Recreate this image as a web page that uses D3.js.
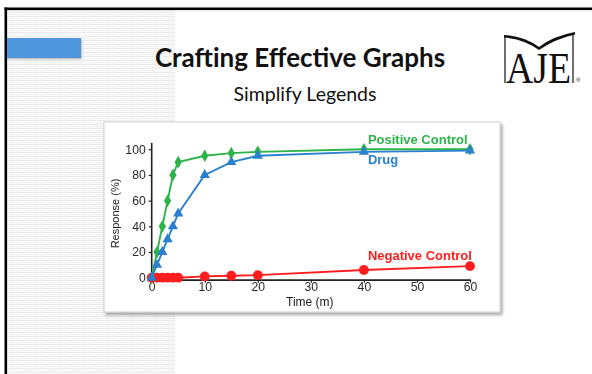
<!DOCTYPE html>
<html>
<head>
<meta charset="utf-8">
<script src="https://cdn.jsdelivr.net/npm/d3@7"></script>
<style>
  html, body { margin: 0; padding: 0; background: #fff; }
  svg { display: block; }
</style>
</head>
<body>
<svg id="slide" width="592" height="374"></svg>
<script>
// ---- data ----
const times = [0, 1, 2, 3, 4, 5, 10, 15, 20, 40, 60];
const positiveControl = [0, 20, 40, 60, 80, 90, 95, 97, 98, 100, 100];
const drug = [0, 10, 20, 30, 40, 50, 80, 90, 95, 98, 99];
const negativeControl = [0, 0, 0, 0, 0, 0, 1, 1.5, 2, 6, 9];
const xTicks = [0, 10, 20, 30, 40, 50, 60];
const yTicks = [0, 20, 40, 60, 80, 100];
const seriesNames = ["Positive Control", "Drug", "Negative Control"];

const svg = d3.select("#slide");
const defs = svg.append("defs");

// ---- slide background ----
const pat = defs.append("pattern").attr("id", "weave")
  .attr("patternUnits", "userSpaceOnUse").attr("width", 24).attr("height", 4);
pat.append("rect").attr("width", 24).attr("height", 4).attr("fill", "#f9f9f9");
pat.append("rect").attr("y", 0).attr("width", 24).attr("height", 1).attr("fill", "#ebebeb");
pat.append("rect").attr("y", 2).attr("width", 14).attr("height", 1).attr("fill", "#f1f1f1");
pat.append("rect").attr("x", 17).attr("width", 1).attr("height", 4).attr("fill", "#f2f2f2");

svg.append("rect").attr("x", 7).attr("y", 10).attr("width", 168).attr("height", 364)
  .attr("fill", "url(#weave)");

// frame edges
svg.append("rect").attr("x", 4.5).attr("y", 7.5).attr("width", 592).attr("height", 2.6).attr("fill", "#000");
svg.append("rect").attr("x", 4.5).attr("y", 7.5).attr("width", 2.6).attr("height", 370).attr("fill", "#000");

// blue tab
const shadow = defs.append("filter").attr("id", "tabShadow").attr("x", "-10%").attr("y", "-20%")
  .attr("width", "130%").attr("height", "160%");
shadow.append("feDropShadow").attr("dx", 0.5).attr("dy", 1).attr("stdDeviation", 0.8)
  .attr("flood-color", "#000").attr("flood-opacity", 0.3);
svg.append("rect").attr("x", 7).attr("y", 38).attr("width", 74).attr("height", 20)
  .attr("fill", "#4f97dd").attr("filter", "url(#tabShadow)");

// headings
svg.append("text").attr("x", 300).attr("y", 67).attr("text-anchor", "middle")
  .attr("font-family", "Lato, 'Open Sans', sans-serif").attr("font-weight", 700)
  .attr("font-size", 26).attr("fill", "#111").text("Crafting Effective Graphs");
svg.append("text").attr("x", 305).attr("y", 101).attr("text-anchor", "middle")
  .attr("font-family", "Lato, 'Open Sans', sans-serif").attr("font-weight", 400)
  .attr("font-size", 19.5).attr("fill", "#111").text("Simplify Legends");

// logo: open book over the letters
const logo = svg.append("g");
logo.append("path").attr("d", "M505,36 L505,83").attr("stroke", "#111").attr("stroke-width", 1.2).attr("fill", "none");
logo.append("path").attr("d", "M573,33 L573,83").attr("stroke", "#111").attr("stroke-width", 1.2).attr("fill", "none");
logo.append("path").attr("d", "M504,35 Q524,36 539,47 Q553,36 575,32 L575,34.5 Q555,39 539,50 Q524,39 504,37.5 Z")
  .attr("fill", "#111");
logo.append("text").attr("x", 0).attr("y", 0)
  .attr("transform", "translate(506,83) scale(0.86,1)")
  .attr("font-family", "'Liberation Serif', 'DejaVu Serif', serif")
  .attr("font-size", 44).attr("fill", "#111").text("AJE");
logo.append("text").attr("x", 576).attr("y", 82)
  .attr("font-family", "'Liberation Sans', sans-serif").attr("font-size", 6).attr("fill", "#111").text("®");

// ---- embedded chart panel ----
const panelShadow = defs.append("filter").attr("id", "panelShadow").attr("x", "-5%").attr("y", "-5%")
  .attr("width", "112%").attr("height", "115%");
panelShadow.append("feDropShadow").attr("dx", 2).attr("dy", 2.5).attr("stdDeviation", 1.5)
  .attr("flood-color", "#000").attr("flood-opacity", 0.35);
svg.append("rect").attr("x", 104).attr("y", 122).attr("width", 396).attr("height", 190)
  .attr("fill", "#fff").attr("stroke", "#cfcfcf").attr("stroke-width", 1)
  .attr("filter", "url(#panelShadow)");

const soft = defs.append("filter").attr("id", "soft");
soft.append("feGaussianBlur").attr("stdDeviation", 0.35);

const chart = svg.append("g").attr("filter", "url(#soft)");

const x = d3.scaleLinear().domain([0, 60]).range([151.7, 470]);
const y = d3.scaleLinear().domain([0, 100]).range([277.7, 149.3]);

const font = "'Liberation Sans', Arial, sans-serif";

// axes
const yAxis = chart.append("g").attr("transform", `translate(${x(0)},0)`)
  .call(d3.axisLeft(y).tickValues(yTicks).tickSize(3).tickSizeOuter(0).tickPadding(3));
yAxis.select(".domain").remove();
yAxis.append("line").attr("x1", 0).attr("x2", 0).attr("y1", y(105)).attr("y2", y(-1.5))
  .attr("stroke", "#222").attr("stroke-width", 1.6);

const xAxis = chart.append("g").attr("transform", `translate(0,${y(-1.5)})`)
  .call(d3.axisBottom(x).tickValues(xTicks).tickSize(3).tickSizeOuter(0).tickPadding(0));
xAxis.select(".domain").attr("stroke", "#222").attr("stroke-width", 1.6);

chart.selectAll(".tick line").attr("stroke", "#222").attr("stroke-width", 1.2);
chart.selectAll(".tick text").attr("font-family", font).attr("font-size", 12.2)
  .attr("fill", "#2a2a2a");

chart.append("text").attr("x", (x(0) + x(60)) / 2 - 1).attr("y", 306).attr("text-anchor", "middle")
  .attr("font-family", font).attr("font-size", 12).attr("fill", "#222").text("Time (m)");
chart.append("text").attr("transform", `translate(119,${y(50)}) rotate(-90)`)
  .attr("text-anchor", "middle").attr("font-family", font).attr("font-size", 11)
  .attr("fill", "#222").text("Response (%)");

// series
const series = [
  { name: seriesNames[0], values: positiveControl, color: "#2fb34c", symbol: d3.symbolDiamond, size: 46 },
  { name: seriesNames[2], values: negativeControl, color: "#ff1f1f", symbol: d3.symbolCircle, size: 76 },
  { name: seriesNames[1], values: drug, color: "#2c7fcf", symbol: d3.symbolTriangle, size: 46 }
];

const line = d3.line().x((d, i) => x(times[i])).y(d => y(d));

series.forEach(s => {
  const g = chart.append("g");
  g.append("path").datum(s.values).attr("d", line)
    .attr("fill", "none").attr("stroke", s.color).attr("stroke-width", 1.9);
  g.selectAll("path.pt").data(s.values).join("path").attr("class", "pt")
    .attr("transform", (d, i) => `translate(${x(times[i])},${y(d)})`)
    .attr("d", d3.symbol().type(s.symbol).size(s.size))
    .attr("fill", s.color);
});

// direct labels
const labelSize = 13;
chart.append("text").attr("x", x(40) + 4).attr("y", y(100) - 5)
  .attr("font-family", font).attr("font-size", labelSize).attr("font-weight", 700)
  .attr("fill", "#2fb34c").text(seriesNames[0]);
chart.append("text").attr("x", x(40) + 4).attr("y", y(98) + 12)
  .attr("font-family", font).attr("font-size", labelSize).attr("font-weight", 700)
  .attr("fill", "#2c7fcf").text(seriesNames[1]);
chart.append("text").attr("x", x(40) + 4).attr("y", y(6) - 10)
  .attr("font-family", font).attr("font-size", labelSize).attr("font-weight", 700)
  .attr("fill", "#ff1f1f").text(seriesNames[2]);
</script>
</body>
</html>
